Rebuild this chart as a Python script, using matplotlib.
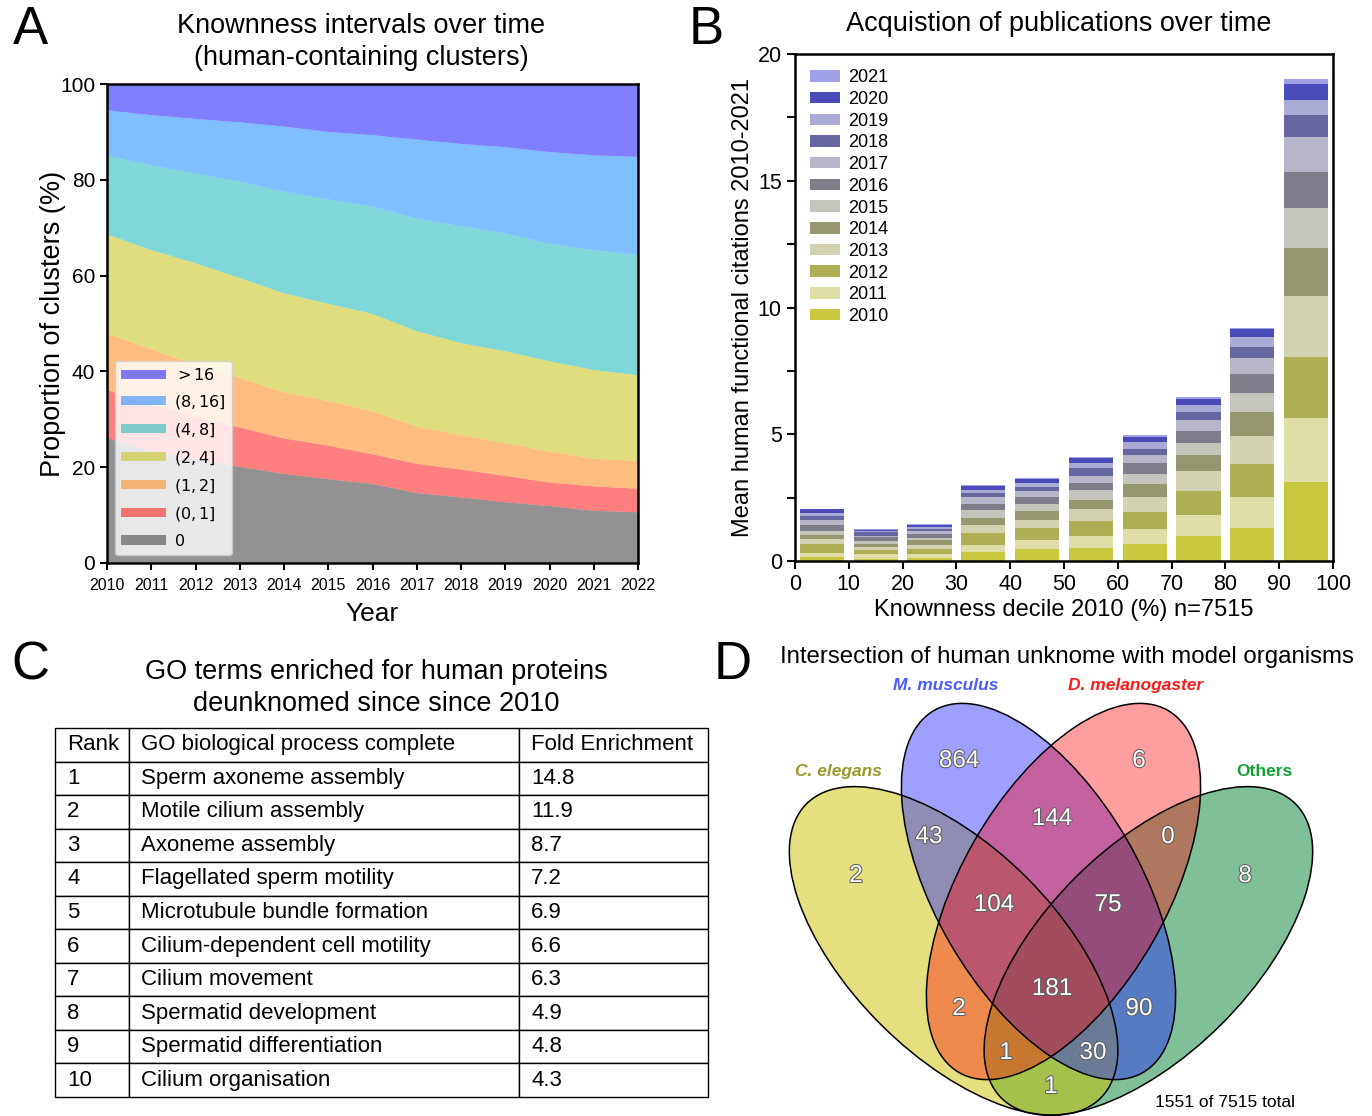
import numpy as np
import matplotlib
matplotlib.use("Agg")
import matplotlib.pyplot as plt
from matplotlib.patches import Ellipse
import matplotlib.patheffects as pe

plt.rcParams['font.family'] = ['Liberation Sans', 'DejaVu Sans']
plt.rcParams['mathtext.fontset'] = 'dejavusans'

W, H = 1372, 1116  # figure size in pixels (dpi 100)

# ---------------- data: panel A (cumulative tops of each band, %)
years = list(range(2010, 2023))
band_labels = [r'$0$', r'$(0,1]$', r'$(1,2]$', r'$(2,4]$', r'$(4,8]$', r'$(8,16]$', r'$>16$']
band_colors = ['#272727', '#ff0000', '#ff7f00', '#bfbf00', '#00b1b1', '#007fff', '#0000ff']
top_0 = [26.1, 23.4, 21.7, 20.1, 18.6, 17.5, 16.5, 14.6, 13.7, 12.7, 11.9, 10.9, 10.6]
top_0_1 = [36.1, 33.1, 30.4, 28.3, 26.0, 24.5, 22.7, 20.7, 19.5, 18.2, 16.8, 16.0, 15.5]
top_1_2 = [47.9, 44.6, 41.4, 38.7, 35.6, 33.8, 31.7, 28.5, 26.7, 25.0, 23.3, 21.8, 21.3]
top_2_4 = [68.6, 65.3, 62.6, 59.5, 56.3, 54.1, 52.0, 48.4, 45.9, 44.2, 42.1, 40.3, 39.2]
top_4_8 = [85.0, 83.0, 81.3, 79.6, 77.5, 75.9, 74.4, 71.9, 70.3, 68.8, 66.6, 65.3, 64.3]
top_8_16 = [94.5, 93.5, 92.7, 92.0, 91.1, 90.0, 89.3, 88.4, 87.5, 86.8, 85.8, 85.1, 84.8]
top_all = [100.0] * 13

# ---------------- data: panel B (cumulative bar tops per citation year)
deciles = [5, 15, 25, 35, 45, 55, 65, 75, 85, 95]
cit_years = list(range(2010, 2022))
cit_colors = ['#c8c840', '#dedea6', '#aeae55', '#d2d2b0', '#96966f', '#c4c4bd',
              '#7e7e8a', '#b6b6c8', '#6666a0', '#aaaad6', '#4a4ab8', '#a0a0e6']
bar_tops = [
    [0.16, 0.32, 0.69, 0.86, 1.02, 1.18, 1.42, 1.62, 1.78, 1.89, 2.05, 2.06],
    [0.08, 0.27, 0.43, 0.56, 0.69, 0.78, 0.93, 1.00, 1.13, 1.20, 1.24, 1.26],
    [0.12, 0.29, 0.48, 0.65, 0.82, 0.90, 1.06, 1.17, 1.28, 1.33, 1.42, 1.46],
    [0.36, 0.64, 1.10, 1.42, 1.69, 2.01, 2.25, 2.54, 2.69, 2.79, 2.97, 2.99],
    [0.48, 0.82, 1.30, 1.62, 1.97, 2.25, 2.53, 2.75, 2.91, 3.06, 3.22, 3.26],
    [0.52, 0.98, 1.58, 2.05, 2.41, 2.79, 3.07, 3.36, 3.66, 3.86, 4.06, 4.10],
    [0.68, 1.26, 1.93, 2.53, 3.03, 3.43, 3.86, 4.18, 4.41, 4.68, 4.88, 4.96],
    [0.98, 1.81, 2.75, 3.54, 4.18, 4.64, 5.12, 5.55, 5.86, 6.14, 6.38, 6.45],
    [1.30, 2.53, 3.82, 4.92, 5.86, 6.61, 7.39, 7.99, 8.46, 8.82, 9.14, 9.20],
    [3.11, 5.63, 8.03, 10.47, 12.35, 13.94, 15.35, 16.73, 17.59, 18.18, 18.80, 19.00],
]

# ---------------- data: panel C
go_rank = ['1', '2', '3', '4', '5', '6', '7', '8', '9', '10']
go_terms = ['Sperm axoneme assembly', 'Motile cilium assembly', 'Axoneme assembly',
            'Flagellated sperm motility', 'Microtubule bundle formation',
            'Cilium-dependent cell motility', 'Cilium movement', 'Spermatid development',
            'Spermatid differentiation', 'Cilium organisation']
go_fold = ['14.8', '11.9', '8.7', '7.2', '6.9', '6.6', '6.3', '4.9', '4.8', '4.3']
go_header = ['Rank', 'GO biological process complete', 'Fold Enrichment']

# ---------------- data: panel D (C=C. elegans, M=M. musculus, D=D. melanogaster, O=Others)
venn_regions = ['M', 'D', 'CM', 'MD', 'DO', 'C', 'O', 'CMD', 'MDO', 'CMDO', 'CD', 'MO', 'CDO', 'CMO', 'CO']
venn_counts = [864, 6, 43, 144, 0, 2, 8, 104, 75, 181, 2, 90, 1, 30, 1]
venn_total = "1551 of 7515 total"

fig = plt.figure(figsize=(W / 100, H / 100), dpi=100)


def px(x, y):
    return x / W, 1 - y / H


def ax_rect(left, top, right, bottom):
    return [left / W, 1 - bottom / H, (right - left) / W, (bottom - top) / H]


# panel letters
for letter, (lx, ly) in zip('ABCD', [(30, 30), (706, 30), (30, 665), (733, 665)]):
    fig.text(*px(lx, ly), letter, fontsize=38, ha='center', va='center')

# ================= A
axA = fig.add_axes(ax_rect(107, 84, 638, 563))
tops = [top_0, top_0_1, top_1_2, top_2_4, top_4_8, top_8_16, top_all]
layers = np.diff(np.vstack([np.zeros(13), np.array(tops)]), axis=0)
polys = axA.stackplot(years, layers, colors=band_colors, alpha=0.5, labels=band_labels, lw=0)
axA.set_xlim(2010, 2022)
axA.set_ylim(0, 100)
axA.set_xticks(years)
axA.set_yticks(range(0, 101, 20))
axA.tick_params(axis='x', labelsize=11.5, width=1.5, length=5, pad=6)
axA.tick_params(axis='y', labelsize=15, width=1.5, length=5)
for s in axA.spines.values():
    s.set_linewidth(1.8)
axA.set_xlabel('Year', fontsize=19, labelpad=6)
axA.set_ylabel('Proportion of clusters (%)', fontsize=19.5, labelpad=-4)
hA, lA = axA.get_legend_handles_labels()
axA.legend(hA[::-1], lA[::-1], loc='lower left', fontsize=11.5, handlelength=2.8,
           handleheight=0.5, labelspacing=0.62, handletextpad=0.5)
fig.text(*px(361, 42), 'Knownness intervals over time\n(human-containing clusters)',
         fontsize=19.5, ha='center', va='center', linespacing=1.3)

# ================= B
axB = fig.add_axes(ax_rect(795, 54, 1333, 561))
tops_arr = np.array(bar_tops)
heights = np.diff(np.hstack([np.zeros((10, 1)), tops_arr]), axis=1)
bottoms = tops_arr - heights
handles = []
for j, yr in enumerate(cit_years):
    bc = axB.bar(deciles, heights[:, j], bottom=bottoms[:, j], width=8.2,
                 color=cit_colors[j], label=str(yr), lw=0)
    handles.append(bc)
axB.set_xlim(0, 100)
axB.set_ylim(0, 20)
axB.set_xticks(range(0, 101, 10))
axB.set_yticks(range(0, 21, 5))
axB.set_yticks(np.arange(2.5, 20, 5), minor=True)
axB.tick_params(axis='both', which='both', labelsize=15.5, width=1.5, length=6)
for s in axB.spines.values():
    s.set_linewidth(1.8)
axB.set_xlabel('Knownness decile 2010 (%) n=7515', fontsize=17, labelpad=3)
axB.set_ylabel('Mean human functional citations 2010-2021', fontsize=17, labelpad=3)
axB.legend(handles[::-1], [str(y) for y in cit_years][::-1], loc='upper left', frameon=False,
           fontsize=13, handlelength=1.65, handleheight=0.6, labelspacing=0.26,
           handletextpad=0.45, borderaxespad=0.45)
fig.text(*px(1059, 24), 'Acquistion of publications over time', fontsize=19.5,
         ha='center', va='center')

# ================= C
fig.text(*px(376, 688), 'GO terms enriched for human proteins\ndeunknomed since since 2010',
         fontsize=19.5, ha='center', va='center', linespacing=1.3)
axC = fig.add_axes(ax_rect(55, 728, 708, 1097))
axC.axis('off')
cells = [go_header] + [[r, t, f] for r, t, f in zip(go_rank, go_terms, go_fold)]
col_w = [74, 390, 189]
tbl = axC.table(cellText=cells, cellLoc='left', colWidths=[w / sum(col_w) for w in col_w],
                bbox=[0, 0, 1, 1])
tbl.auto_set_font_size(False)
tbl.set_fontsize(16)
for (r, c), cell in tbl.get_celld().items():
    cell.PAD = 12 / col_w[c]
    cell.set_linewidth(1.0)

# ================= D
axD = fig.add_axes(ax_rect(760, 640, 1372, 1116))
axD.set_xlim(760, 1372)
axD.set_ylim(1116, 640)
axD.axis('off')
fig.text(*px(1067, 657), 'Intersection of human unknome with model organisms',
         fontsize=17.3, ha='center', va='center')

# ellipse layout (pixel coords, drawn in order green, yellow, blue, red)
ell = {
    'O': dict(xy=(1148.4, 950.9), w=416, h=207, ang=-45, fc='#008234', a=0.5, z=1),
    'C': dict(xy=(953.6, 950.9), w=416, h=207, ang=45, fc='#ccc200', a=0.5, z=2),
    'M': dict(xy=(1038.5, 891.5), w=418, h=205, ang=60, fc='#1c1cff', a=0.42, z=3),
    'D': dict(xy=(1063.5, 891.5), w=418, h=205, ang=-60, fc='#ff0000', a=0.38, z=4),
}
for k, e in ell.items():
    axD.add_patch(Ellipse(e['xy'], e['w'], e['h'], angle=e['ang'], fc=e['fc'],
                          alpha=e['a'], lw=0, zorder=e['z']))
    axD.add_patch(Ellipse(e['xy'], e['w'], e['h'], angle=e['ang'], fill=False,
                          ec='black', lw=1.1, zorder=5))

label_pos = {
    'M': (959, 761), 'D': (1139, 761), 'CM': (929, 837), 'MD': (1052, 819), 'DO': (1168, 837),
    'C': (856, 876), 'O': (1245, 876), 'CMD': (994, 905), 'MDO': (1108, 905),
    'CMDO': (1052, 989), 'CD': (959, 1009), 'MO': (1139, 1009), 'CDO': (1006, 1053),
    'CMO': (1093, 1053), 'CO': (1051, 1087),
}
for reg, cnt in zip(venn_regions, venn_counts):
    x, y = label_pos[reg]
    axD.text(x, y, str(cnt), fontsize=17.5, color='white', ha='center', va='center', zorder=6,
             path_effects=[pe.withStroke(linewidth=1.5, foreground='#606060')])

set_names = [('C. elegans', (838, 772), '#9a9a28', 'italic'),
             ('M. musculus', (946, 686), '#4a5cff', 'italic'),
             ('D. melanogaster', (1136, 686), '#ff1a1a', 'italic'),
             ('Others', (1264, 772), '#12a030', 'normal')]
for name, (x, y), col, sty in set_names:
    axD.text(x, y, name, fontsize=12.5, color=col, fontweight='bold', fontstyle=sty,
             ha='center', va='center', zorder=6)
axD.text(1225, 1103, venn_total, fontsize=12.5, ha='center', va='center', zorder=6)

fig.savefig('out.png', dpi=100)
